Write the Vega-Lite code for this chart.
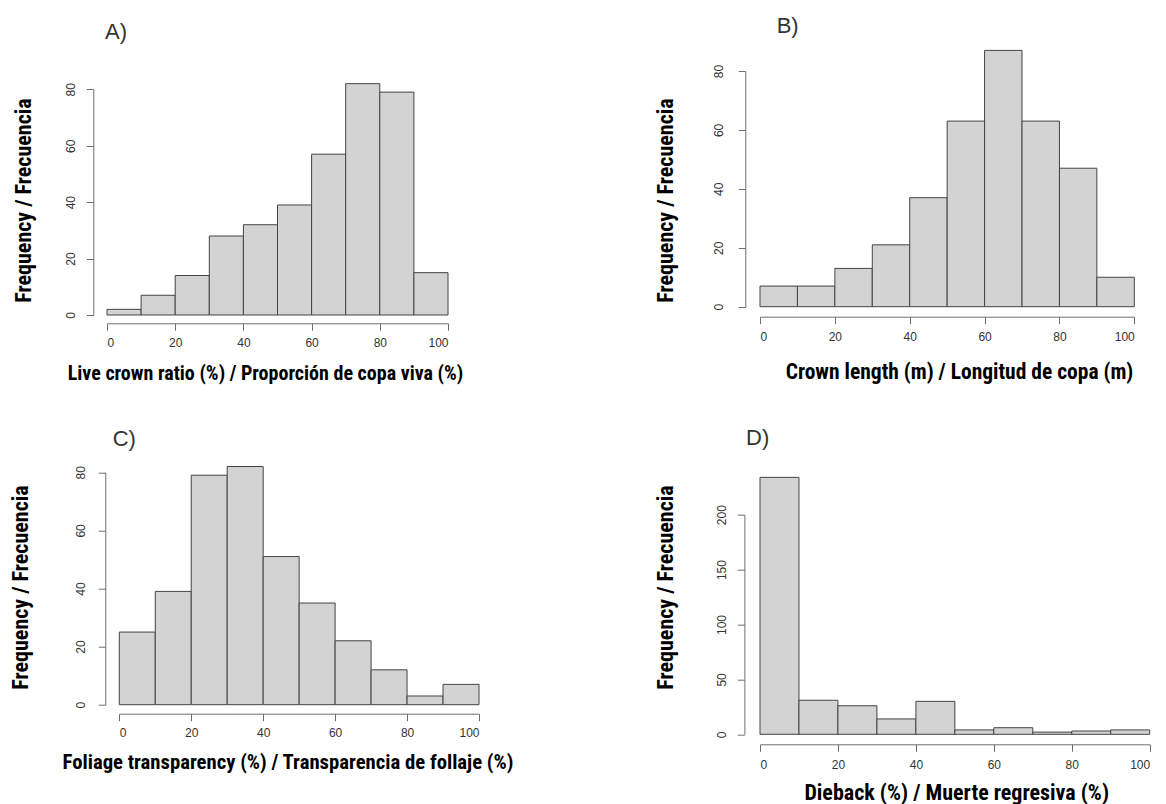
{
  "$schema": "https://vega.github.io/schema/vega-lite/v6.json",
  "background": "white",
  "padding": {"left": 9, "top": 14, "right": 5, "bottom": 5},
  "datasets": {
    "A": [
      {"bin": 0, "bin_end": 10, "count": 2}, {"bin": 10, "bin_end": 20, "count": 7},
      {"bin": 20, "bin_end": 30, "count": 14}, {"bin": 30, "bin_end": 40, "count": 28},
      {"bin": 40, "bin_end": 50, "count": 32}, {"bin": 50, "bin_end": 60, "count": 39},
      {"bin": 60, "bin_end": 70, "count": 57}, {"bin": 70, "bin_end": 80, "count": 82},
      {"bin": 80, "bin_end": 90, "count": 79}, {"bin": 90, "bin_end": 100, "count": 15}
    ],
    "B": [
      {"bin": 0, "bin_end": 10, "count": 7}, {"bin": 10, "bin_end": 20, "count": 7},
      {"bin": 20, "bin_end": 30, "count": 13}, {"bin": 30, "bin_end": 40, "count": 21},
      {"bin": 40, "bin_end": 50, "count": 37}, {"bin": 50, "bin_end": 60, "count": 63},
      {"bin": 60, "bin_end": 70, "count": 87}, {"bin": 70, "bin_end": 80, "count": 63},
      {"bin": 80, "bin_end": 90, "count": 47}, {"bin": 90, "bin_end": 100, "count": 10}
    ],
    "C": [
      {"bin": 0, "bin_end": 10, "count": 25}, {"bin": 10, "bin_end": 20, "count": 39},
      {"bin": 20, "bin_end": 30, "count": 79}, {"bin": 30, "bin_end": 40, "count": 82},
      {"bin": 40, "bin_end": 50, "count": 51}, {"bin": 50, "bin_end": 60, "count": 35},
      {"bin": 60, "bin_end": 70, "count": 22}, {"bin": 70, "bin_end": 80, "count": 12},
      {"bin": 80, "bin_end": 90, "count": 3}, {"bin": 90, "bin_end": 100, "count": 7}
    ],
    "D": [
      {"bin": 0, "bin_end": 10, "count": 234}, {"bin": 10, "bin_end": 20, "count": 31},
      {"bin": 20, "bin_end": 30, "count": 26}, {"bin": 30, "bin_end": 40, "count": 14},
      {"bin": 40, "bin_end": 50, "count": 30}, {"bin": 50, "bin_end": 60, "count": 4},
      {"bin": 60, "bin_end": 70, "count": 6}, {"bin": 70, "bin_end": 80, "count": 2},
      {"bin": 80, "bin_end": 90, "count": 3}, {"bin": 90, "bin_end": 100, "count": 4}
    ]
  },
  "config": {
    "view": {"stroke": null},
    "axis": {
      "grid": false, "domainColor": "#6e6e6e", "tickColor": "#6e6e6e", "tickSize": 7,
      "domainWidth": 1, "tickWidth": 1,
      "labelFont": "Liberation Sans, Arial, sans-serif", "labelFontSize": 12, "labelColor": "#333333",
      "titleFont": "Liberation Sans Narrow, Noto Sans Condensed, Roboto Condensed, DejaVu Sans Condensed, Open Sans Condensed, sans-serif",
      "titleFontSize": 22, "titleFontWeight": "bold", "titleColor": "#000000"
    },
    "axisY": {"labelAngle": 270, "labelAlign": "center", "labelBaseline": "bottom", "labelPadding": 8,
      "titleBaseline": "middle", "titleAlign": "center", "titleAngle": 270},
    "axisX": {"labelAngle": 0, "labelPadding": 7, "titleBaseline": "middle", "titleAlign": "center"},
    "title": {"font": "Liberation Sans, Arial, sans-serif", "fontSize": 22, "fontWeight": "normal",
      "color": "#333333", "anchor": "start", "baseline": "alphabetic", "frame": "group"},
    "bar": {"fill": "#d3d3d3", "stroke": "#444444", "strokeWidth": 1}
  },
  "columns": 2,
  "bounds": "flush",
  "align": "each",
  "spacing": {"row": 141.7, "column": 312},
  "concat": [
    {
      "width": 341, "height": 244,
      "title": {"text": "A)", "offset": 26.6, "dx": -2},
      "data": {"name": "A"},
      "mark": {"type": "bar"},
      "encoding": {
        "x": {"field": "bin", "type": "quantitative",
          "scale": {"domain": [0, 100], "nice": false, "zero": false},
          "axis": {"values": [0, 20, 40, 60, 80, 100], "offset": 8.3, "titleFontSize": 20,
            "title": "Live crown ratio (%) / Proporción de copa viva (%)", "titleX": 158, "titleY": 50}},
        "x2": {"field": "bin_end"},
        "y": {"field": "count", "type": "quantitative", "stack": null,
          "scale": {"domain": [0, 80], "nice": false, "range": [244, 18.3]},
          "axis": {"values": [0, 20, 40, 60, 80], "offset": 13.7, "labelPadding": 9,
            "title": "Frequency / Frecuencia", "titleX": -70, "titleY": 129}},
        "y2": {"datum": 0}
      }
    },
    {
      "width": 374.3, "height": 235.7,
      "title": {"text": "B)", "offset": 12.3, "dx": 16.7},
      "data": {"name": "B"},
      "mark": {"type": "bar"},
      "encoding": {
        "x": {"field": "bin", "type": "quantitative",
          "scale": {"domain": [0, 100], "nice": false, "zero": false},
          "axis": {"values": [0, 20, 40, 60, 80, 100], "offset": 10, "titleFontSize": 21.5, "labelPadding": 8,
            "title": "Crown length (m) / Longitud de copa (m)", "titleX": 199, "titleY": 56}},
        "x2": {"field": "bin_end"},
        "y": {"field": "count", "type": "quantitative", "stack": null,
          "scale": {"domain": [0, 80], "nice": false},
          "axis": {"values": [0, 20, 40, 60, 80], "offset": 14.7, "labelPadding": 13,
            "title": "Frequency / Frecuencia", "titleX": -80, "titleY": 129}},
        "y2": {"datum": 0}
      }
    },
    {
      "width": 341, "height": 248,
      "title": {"text": "C)", "offset": 5.9, "dx": 5.7},
      "data": {"name": "C"},
      "mark": {"type": "bar"},
      "encoding": {
        "x": {"field": "bin", "type": "quantitative",
          "scale": {"domain": [0, 100], "nice": false, "zero": false, "range": [12.3, 372]},
          "axis": {"values": [0, 20, 40, 60, 80, 100], "offset": 9, "titleFontSize": 20.7,
            "title": "Foliage transparency (%) / Transparencia de follaje (%)", "titleX": 180.5, "titleY": 49}},
        "x2": {"field": "bin_end"},
        "y": {"field": "count", "type": "quantitative", "stack": null,
          "scale": {"domain": [0, 80], "nice": false, "range": [248, 15.6]},
          "axis": {"values": [0, 20, 40, 60, 80], "offset": 1.7, "labelPadding": 11,
            "title": "Frequency / Frecuencia", "titleX": -84.6, "titleY": 130.3}},
        "y2": {"datum": 0}
      }
    },
    {
      "width": 389.7, "height": 277.6,
      "title": {"text": "D)", "offset": 6.9, "dx": -14},
      "data": {"name": "D"},
      "mark": {"type": "bar"},
      "encoding": {
        "x": {"field": "bin", "type": "quantitative",
          "scale": {"domain": [0, 100], "nice": false, "zero": false},
          "axis": {"values": [0, 20, 40, 60, 80, 100], "offset": 10, "titleFontSize": 22, "labelPadding": 8,
            "title": "Dieback (%) / Muerte regresiva (%)", "titleX": 196.2, "titleY": 48}},
        "x2": {"field": "bin_end"},
        "y": {"field": "count", "type": "quantitative", "stack": null,
          "scale": {"domain": [0, 200], "nice": false, "range": [277.6, 58]},
          "axis": {"values": [0, 50, 100, 150, 200], "offset": 15.6, "labelPadding": 9,
            "title": "Frequency / Frecuencia", "titleX": -78.7, "titleY": 130.3}},
        "y2": {"datum": 0}
      }
    }
  ]
}
